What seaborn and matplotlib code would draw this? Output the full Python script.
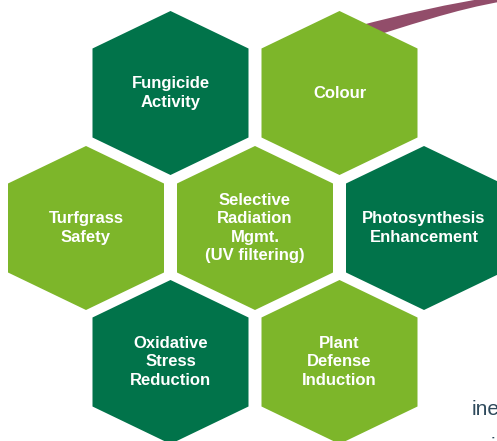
import numpy as np
import matplotlib
matplotlib.use("Agg")
import matplotlib.pyplot as plt
from matplotlib.patches import Polygon, PathPatch
from matplotlib.path import Path
import seaborn as sns

# --- data ---------------------------------------------------------------
labels = [
    "Fungicide\nActivity",
    "Colour",
    "Turfgrass\nSafety",
    "Selective\nRadiation\nMgmt.\n(UV filtering)",
    "Photosynthesis\nEnhancement",
    "Oxidative\nStress\nReduction",
    "Plant\nDefense\nInduction",
]
tones = ["dark", "light", "light", "light", "dark", "dark", "light"]
rows = [0, 0, 1, 1, 1, 2, 2]
cols = [0, 1, 0, 1, 2, 0, 1]

palette = {"dark": "#01734A", "light": "#7DB62A"}
arc_color = "#924D6A"

# --- layout (pixel space) -------------------------------------------------
W, H = 497, 441
half_w, tip, side = 78, 82, 44.5
x0, dx = 86, 169
row_y = [93, 228, 362]


def hex_points(cx, cy):
    return [(cx, cy - tip), (cx + half_w, cy - side), (cx + half_w, cy + side),
            (cx, cy + tip), (cx - half_w, cy + side), (cx - half_w, cy - side)]


sns.set_theme(style="white")
plt.rcParams["font.family"] = ["Liberation Sans", "DejaVu Sans"]

fig = plt.figure(figsize=(W / 100, H / 100), dpi=100)
ax = fig.add_axes([0, 0, 1, 1])
ax.set_xlim(0, W)
ax.set_ylim(H, 0)
ax.axis("off")

# purple swoosh behind the top-right hexagon
verts = [(358, 26), (400, 15), (450, 3), (500, -4),
         (505, 1), (455, 9), (405, 27), (358, 41), (358, 26)]
codes = [Path.MOVETO, Path.CURVE4, Path.CURVE4, Path.CURVE4,
         Path.LINETO, Path.CURVE4, Path.CURVE4, Path.CURVE4, Path.CLOSEPOLY]
ax.add_patch(PathPatch(Path(verts, codes), facecolor=arc_color,
                       edgecolor="none", zorder=1))

for lab, tone, r, c in zip(labels, tones, rows, cols):
    cx = x0 + c * dx + (dx / 2 if r != 1 else 0)
    cy = row_y[r]
    ax.add_patch(Polygon(hex_points(cx, cy), closed=True,
                         facecolor=palette[tone], edgecolor="none", zorder=2))
    ax.text(cx, cy, lab, color="white", fontsize=12, fontweight="bold",
            ha="center", va="center", linespacing=1.3, zorder=3)

# clipped text fragments at the bottom right
ax.text(472, 415, "ine", color="#2E4A5C", fontsize=15, ha="left",
        va="baseline", zorder=3)
ax.text(491, 452, "i", color="#2E4A5C", fontsize=15, ha="left",
        va="baseline", zorder=3)

fig.savefig("out.png", dpi=100)
